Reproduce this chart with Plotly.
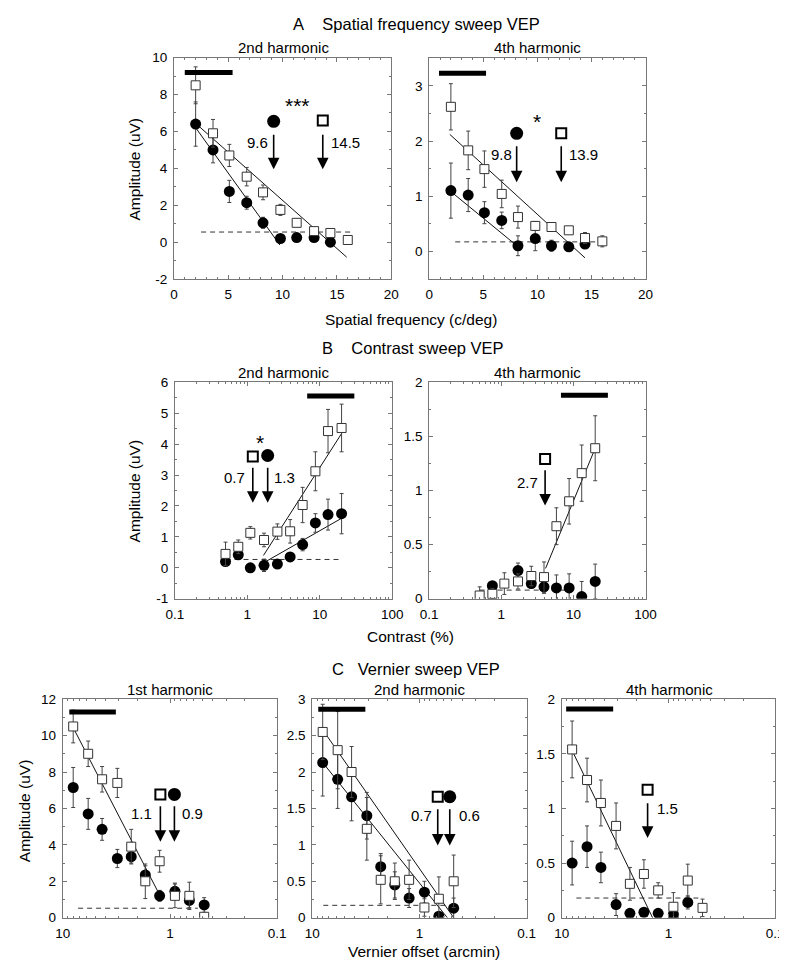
import math
import plotly.graph_objects as go

W, H = 787, 962
FONT = "Liberation Sans, Arial, sans-serif"

# ---------------- DATA ----------------
# A: spatial frequency sweep (c/deg)
A_sf = [2.0, 3.6, 5.1, 6.7, 8.2, 9.8, 11.3, 12.9, 14.4, 16.0]
A2_sq = [8.5, 5.9, 4.7, 3.55, 2.7, 1.75, 1.05, 0.6, 0.5, 0.12]
A2_sq_err = [1.0, 0.75, 0.6, 0.5, 0.4, 0.3, 0.2, 0.15, 0.15, 0.1]
A2_ci = [6.4, 5.0, 2.75, 2.14, 1.05, 0.2, 0.25, 0.25, 0.0]
A2_ci_err = [1.2, 0.7, 0.6, 0.35, 0.3, 0.2, 0.15, 0.15, 0.1]
A2_fit_ci_x, A2_fit_ci_y = [1.92, 9.75], [6.27, -0.15]
A2_fit_sq_x, A2_fit_sq_y = [1.92, 15.9], [6.48, -0.81]
A2_noise_x, A2_noise_y = [2.5, 16.3], 0.55
A2_bar_x, A2_bar_y = [1.0, 5.4], 9.2

A4_sq = [2.62, 1.83, 1.49, 1.04, 0.62, 0.46, 0.44, 0.38, 0.24, 0.18]
A4_sq_err = [0.42, 0.35, 0.33, 0.25, 0.2, 0.08, 0.05, 0.05, 0.1, 0.1]
A4_ci = [1.1, 1.02, 0.7, 0.56, 0.1, 0.23, 0.1, 0.08, 0.13]
A4_ci_err = [0.5, 0.3, 0.2, 0.15, 0.18, 0.22, 0.1, 0.05, 0.05]
A4_fit_ci_x, A4_fit_ci_y = [2.2, 8.1], [1.05, 0.1]
A4_fit_sq_x, A4_fit_sq_y = [1.9, 14.4], [2.12, -0.12]
A4_noise_x, A4_noise_y = [2.4, 16.1], 0.17
A4_bar_x, A4_bar_y = [0.9, 5.25], 3.23

# B: contrast sweep (%)
B_c = [0.5, 0.75, 1.1, 1.7, 2.6, 3.9, 5.8, 8.7, 13, 20]
B2_sq = [0.45, 0.68, 1.13, 0.9, 1.17, 1.18, 2.03, 3.12, 4.42, 4.52]
B2_sq_err = [0.38, 0.22, 0.2, 0.22, 0.25, 0.38, 0.57, 0.63, 0.7, 0.77]
B2_ci = [0.2, 0.42, 0.0, 0.08, 0.12, 0.35, 0.75, 1.45, 1.72, 1.75]
B2_ci_err = [0.05, 0.1, 0.1, 0.2, 0.1, 0.12, 0.2, 0.3, 0.5, 0.65]
B2_fit_sq_x, B2_fit_sq_y = [1.67, 20], [0.4, 4.34]
B2_fit_ci_x, B2_fit_ci_y = [1.67, 21.4], [0.16, 1.64]
B2_noise_x, B2_noise_y = [0.5, 20], 0.27
B2_bar_x, B2_bar_y = [6.7, 30], 5.55

B4_sq = [0.03, 0.045, 0.14, 0.16, 0.21, 0.2, 0.67, 0.9, 1.16, 1.39]
B4_sq_err = [0.08, 0.05, 0.1, 0.07, 0.09, 0.14, 0.17, 0.21, 0.26, 0.3]
B4_ci = [None, 0.12, None, 0.26, 0.14, 0.11, 0.1, 0.1, 0.02, 0.16]
B4_ci_err = [0, 0.03, 0, 0.07, 0.04, 0.06, 0.12, 0.13, 0.14, 0.16]
B4_fit_sq_x, B4_fit_sq_y = [4.1, 20], [0.28, 1.39]
B4_noise_x, B4_noise_y = [0.5, 9.5], 0.08
B4_bar_x, B4_bar_y = [6.7, 30], 1.88

# C: vernier sweep (arcmin)
C_v = [8.0, 5.8, 4.3, 3.1, 2.3, 1.7, 1.25, 0.9, 0.66, 0.48]
C1_sq = [10.5, 9.0, 7.6, 7.4, 3.9, 2.0, 3.1, 1.2, 1.2, 0.05]
C1_sq_err = [0.9, 0.7, 0.7, 0.8, 0.95, 0.95, 0.6, 0.65, 0.75, 0.1]
C1_ci = [7.15, 5.7, 4.85, 3.25, 3.35, 2.35, 1.2, 1.45, 0.95, 0.7]
C1_ci_err = [1.1, 0.85, 0.6, 0.5, 0.35, 0.5, 0.3, 0.45, 0.4, 0.4]
C1_fit_sq_x, C1_fit_sq_y = [7.94, 1.23], [10.4, 1.17]
C1_noise_x, C1_noise_y = [7.2, 0.55], 0.52
C1_bar_x, C1_bar_y = [8.7, 3.2], 11.3

C2_sq = [2.55, 2.3, 2.0, 1.22, 0.52, 0.5, 0.52, 0.14, 0.26, 0.5]
C2_sq_err = [0.38, 0.53, 0.35, 0.43, 0.33, 0.25, 0.27, 0.12, 0.3, 0.36]
C2_ci = [2.13, 1.9, 1.66, 1.4, 0.7, 0.45, 0.27, 0.35, 0.02, 0.13]
C2_ci_err = [0.46, 0.4, 0.33, 0.32, 0.18, 0.18, 0.13, 0.15, 0.05, 0.14]
C2_fit_sq_x, C2_fit_sq_y = [8.0, 0.48], [2.58, 0.0]
C2_fit_ci_x, C2_fit_ci_y = [8.0, 0.55], [2.13, 0.0]
C2_noise_x, C2_noise_y = [7.9, 0.5], 0.17
C2_bar_x, C2_bar_y = [8.8, 3.2], 2.86

C3_sq = [1.54, 1.26, 1.05, 0.84, 0.31, 0.4, 0.25, 0.1, 0.34, 0.09]
C3_sq_err = [0.26, 0.2, 0.21, 0.21, 0.15, 0.13, 0.07, 0.13, 0.15, 0.08]
C3_ci = [0.5, 0.65, 0.46, 0.12, 0.04, 0.05, 0.04, 0.03, 0.14, None]
C3_ci_err = [0.2, 0.19, 0.14, 0.1, 0.03, 0.03, 0.02, 0.02, 0.06, 0]
C3_fit_sq_x, C3_fit_sq_y = [8.0, 1.41], [1.53, 0.0]
C3_noise_x, C3_noise_y = [7.3, 0.48], 0.18
C3_bar_x, C3_bar_y = [9.1, 3.3], 1.91

# threshold annotations: (panel, symbol, x, y)
ann_markers = [
    (1, "circle", 9.18, 6.55), (1, "square", 13.7, 6.6),
    (2, "circle", 8.08, 2.14), (2, "square", 12.2, 2.14),
    (3, "square", 1.19, 3.6), (3, "circle", 1.91, 3.63),
    (4, "square", 4.04, 1.29),
    (5, "square", 1.23, 6.77), (5, "circle", 0.91, 6.77),
    (6, "square", 0.676, 1.66), (6, "circle", 0.522, 1.66),
    (7, "square", 1.57, 1.17),
]
# arrows: (panel, x, y_tail, y_tip)
ann_arrows = [
    (1, 9.18, 5.9, 3.95), (1, 13.7, 5.9, 3.95),
    (2, 8.08, 1.93, 1.25), (2, 12.2, 1.93, 1.25),
    (3, 1.19, 3.28, 2.1), (3, 1.91, 3.28, 2.1),
    (4, 4.04, 1.2, 0.86),
    (5, 1.23, 6.2, 4.17), (5, 0.91, 6.2, 4.17),
    (6, 0.676, 1.51, 0.99), (6, 0.522, 1.51, 0.99),
    (7, 1.57, 1.06, 0.73),
]
# texts: (panel, x, y, text, xanchor, size)
ann_texts = [
    (1, 8.85, 5.38, "9.6", "right", 15), (1, 14.25, 5.38, "14.5", "left", 15),
    (1, 11.4, 7.4, "***", "center", 21),
    (2, 7.85, 1.76, "9.8", "right", 15), (2, 12.7, 1.76, "13.9", "left", 15),
    (2, 10.0, 2.36, "*", "center", 21),
    (3, 0.98, 2.93, "0.7", "right", 15), (3, 2.2, 2.93, "1.3", "left", 15),
    (3, 1.5, 4.05, "*", "center", 21),
    (4, 3.45, 1.07, "2.7", "right", 15),
    (5, 1.4, 5.71, "1.1", "right", 15), (5, 0.8, 5.71, "0.9", "left", 15),
    (6, 0.73, 1.4, "0.7", "right", 15), (6, 0.45, 1.4, "0.6", "left", 15),
    (7, 1.33, 1.0, "1.5", "left", 15),
]

# ---------------- FIGURE ----------------
fig = go.Figure()

LOG_PANELS = {3, 4, 5, 6, 7}


def ax_names(k):
    return ("x" if k == 1 else f"x{k}"), ("y" if k == 1 else f"y{k}")


def lx(k, v):
    return math.log10(v) if k in LOG_PANELS else v


def panel(k, x, sq, sq_err, ci, ci_err, fits, noise_x, noise_y, bar_x, bar_y):
    xa, ya = ax_names(k)
    common = dict(xaxis=xa, yaxis=ya, showlegend=False, hoverinfo="skip")
    fig.add_trace(go.Scatter(x=noise_x, y=[noise_y, noise_y], mode="lines",
                             line=dict(color="#333", width=1, dash="5px,4px"), **common))
    for fx, fy in fits:
        fig.add_trace(go.Scatter(x=fx, y=fy, mode="lines",
                                 line=dict(color="#111", width=1), **common))
    fig.add_trace(go.Scatter(x=x[:len(ci)], y=ci, mode="markers",
                             marker=dict(symbol="circle", size=11, color="black"),
                             error_y=dict(type="data", array=ci_err, color="#444",
                                          thickness=1, width=2), **common))
    fig.add_trace(go.Scatter(x=x[:len(sq)], y=sq, mode="markers",
                             marker=dict(symbol="square", size=9, color="white",
                                         line=dict(color="#333", width=1)),
                             error_y=dict(type="data", array=sq_err, color="#444",
                                          thickness=1, width=2), **common))
    fig.add_trace(go.Scatter(x=bar_x, y=[bar_y, bar_y], mode="lines",
                             line=dict(color="black", width=5), **common))


panel(1, A_sf, A2_sq, A2_sq_err, A2_ci, A2_ci_err,
      [(A2_fit_ci_x, A2_fit_ci_y), (A2_fit_sq_x, A2_fit_sq_y)],
      A2_noise_x, A2_noise_y, A2_bar_x, A2_bar_y)
panel(2, A_sf, A4_sq, A4_sq_err, A4_ci, A4_ci_err,
      [(A4_fit_ci_x, A4_fit_ci_y), (A4_fit_sq_x, A4_fit_sq_y)],
      A4_noise_x, A4_noise_y, A4_bar_x, A4_bar_y)
panel(3, B_c, B2_sq, B2_sq_err, B2_ci, B2_ci_err,
      [(B2_fit_sq_x, B2_fit_sq_y), (B2_fit_ci_x, B2_fit_ci_y)],
      B2_noise_x, B2_noise_y, B2_bar_x, B2_bar_y)
panel(4, B_c, B4_sq, B4_sq_err, B4_ci, B4_ci_err,
      [(B4_fit_sq_x, B4_fit_sq_y)],
      B4_noise_x, B4_noise_y, B4_bar_x, B4_bar_y)
panel(5, C_v, C1_sq, C1_sq_err, C1_ci, C1_ci_err,
      [(C1_fit_sq_x, C1_fit_sq_y)],
      C1_noise_x, C1_noise_y, C1_bar_x, C1_bar_y)
panel(6, C_v, C2_sq, C2_sq_err, C2_ci, C2_ci_err,
      [(C2_fit_sq_x, C2_fit_sq_y), (C2_fit_ci_x, C2_fit_ci_y)],
      C2_noise_x, C2_noise_y, C2_bar_x, C2_bar_y)
panel(7, C_v, C3_sq, C3_sq_err, C3_ci, C3_ci_err,
      [(C3_fit_sq_x, C3_fit_sq_y)],
      C3_noise_x, C3_noise_y, C3_bar_x, C3_bar_y)

for k, sym, x, y in ann_markers:
    xa, ya = ax_names(k)
    if sym == "circle":
        mk = dict(symbol="circle", size=13, color="black")
    else:
        mk = dict(symbol="square", size=10, color="white", line=dict(color="black", width=2))
    fig.add_trace(go.Scatter(x=[x], y=[y], mode="markers", marker=mk, xaxis=xa, yaxis=ya,
                             showlegend=False, hoverinfo="skip"))

annotations = []
for k, x, yt, yh in ann_arrows:
    xa, ya = ax_names(k)
    annotations.append(dict(x=lx(k, x), y=yh, ax=lx(k, x), ay=yt, xref=xa, yref=ya,
                            axref=xa, ayref=ya, text="", showarrow=True,
                            arrowhead=2, arrowsize=1.45, arrowwidth=1.6,
                            arrowcolor="black"))
for k, x, y, t, anc, sz in ann_texts:
    xa, ya = ax_names(k)
    annotations.append(dict(x=lx(k, x), y=y, xref=xa, yref=ya, text=t, showarrow=False,
                            xanchor=anc, yanchor="middle",
                            font=dict(size=sz, color="black", family=FONT)))


def paper_text(px, py, text, size, angle=0):
    annotations.append(dict(x=px / W, y=1 - py / H, xref="paper", yref="paper", text=text,
                            showarrow=False, xanchor="center", yanchor="middle",
                            textangle=angle, font=dict(size=size, color="black", family=FONT)))


paper_text(410, 9, "A&nbsp;&nbsp;&nbsp;&nbsp;Spatial frequency sweep VEP", 16.5)
paper_text(406, 338, "B&nbsp;&nbsp;&nbsp;&nbsp;Contrast sweep VEP", 16.5)
paper_text(409, 664, "C&nbsp;&nbsp;&nbsp;Vernier sweep VEP", 16.5)
paper_text(273, 33, "2nd harmonic", 15)
paper_text(534, 33, "4th harmonic", 15)
paper_text(273, 363, "2nd harmonic", 15)
paper_text(534, 363, "4th harmonic", 15)
paper_text(157, 685, "1st harmonic", 15)
paper_text(413, 685, "2nd harmonic", 15)
paper_text(670, 685, "4th harmonic", 15)
paper_text(404, 309, "Spatial frequency (c/deg)", 15.5)
paper_text(404, 631, "Contrast (%)", 15.5)
paper_text(418, 951, "Vernier offset (arcmin)", 15.5)
paper_text(121, 156, "Amplitude (uV)", 15.5, -90)
paper_text(121, 483, "Amplitude (uV)", 15.5, -90)
paper_text(8, 808, "Amplitude (uV)", 15.5, -90)

# ---------------- AXES ----------------
AXC = "#777"


def xdom(a, b):
    return [a / W, b / W]


def ydom(top, bottom):
    return [1 - bottom / H, 1 - top / H]


def base_axis():
    return dict(showline=True, linecolor=AXC, linewidth=1, mirror="ticks", ticks="inside",
                ticklen=4, tickcolor=AXC, tickwidth=1, showgrid=False, zeroline=False,
                tickfont=dict(size=13.5, color="black", family=FONT), ticklabelstandoff=3,
                ticklabeloverflow="allow")


def lin_x(dom, anchor):
    d = base_axis()
    d.update(domain=dom, anchor=anchor, range=[0, 20], tickmode="array",
             tickvals=[0, 5, 10, 15, 20], ticktext=["0", "5", "10", "15", "20"],
             minor=dict(ticks="inside", ticklen=2, tickcolor=AXC, dtick=1, tick0=0))
    return d


def log_x(dom, anchor, rng, vals, texts):
    d = base_axis()
    minors = [m * 10 ** e for e in range(-2, 3) for m in range(2, 10)]
    d.update(domain=dom, anchor=anchor, type="log", range=rng, tickmode="array",
             tickvals=vals, ticktext=texts,
             minor=dict(ticks="inside", ticklen=2, tickcolor=AXC, tickmode="array",
                        tickvals=minors))
    return d


def y_ax(dom, anchor, rng, vals, texts, mdt):
    d = base_axis()
    d.update(domain=dom, anchor=anchor, range=rng, tickmode="array", tickvals=vals,
             ticktext=texts, minor=dict(ticks="inside", ticklen=2, tickcolor=AXC,
                                        dtick=mdt, tick0=0))
    return d


layout = dict(
    width=W, height=H, margin=dict(l=0, r=0, t=0, b=0),
    paper_bgcolor="white", plot_bgcolor="white",
    font=dict(family=FONT, color="black"),
    annotations=annotations,
)

# A
layout["xaxis"] = lin_x(xdom(161, 384), "y")
layout["yaxis"] = y_ax(ydom(43.3, 268.3), "x", [-2, 10], [-2, 0, 2, 4, 6, 8, 10],
                       ["-2", "0", "2", "4", "6", "8", "10"], 1)
layout["xaxis2"] = lin_x(xdom(423, 645), "y2")
layout["yaxis2"] = y_ax(ydom(44, 268), "x2", [-0.5, 3.5], [0, 1, 2, 3],
                        ["0", "1", "2", "3"], 0.5)
# B
bvals = [0.1, 1, 10, 100]
btext = ["0.1", "1", "10", "100"]
layout["xaxis3"] = log_x(xdom(162, 385), "y3", [-1, 2], bvals, btext)
layout["yaxis3"] = y_ax(ydom(373, 593), "x3", [-1, 6], [-1, 0, 1, 2, 3, 4, 5, 6],
                        ["-1", "0", "1", "2", "3", "4", "5", "6"], 0.5)
layout["xaxis4"] = log_x(xdom(423, 645), "y4", [-1, 2], bvals, btext)
layout["yaxis4"] = y_ax(ydom(373, 593), "x4", [0, 2], [0, 0.5, 1, 1.5, 2],
                        ["0", "0.5", "1", "1.5", "2"], 0.25)
# C
cvals = [10, 1, 0.1]
ctext = ["10", "1", "0.1"]
layout["xaxis5"] = log_x(xdom(47, 267), "y5", [1, -1], cvals, ctext)
layout["yaxis5"] = y_ax(ydom(695, 917), "x5", [0, 12], [0, 2, 4, 6, 8, 10, 12],
                        ["0", "2", "4", "6", "8", "10", "12"], 1)
layout["xaxis6"] = log_x(xdom(303, 523), "y6", [1, -1], cvals, ctext)
layout["yaxis6"] = y_ax(ydom(695, 917), "x6", [0, 3], [0, 0.5, 1, 1.5, 2, 2.5, 3],
                        ["0", "0.5", "1", "1.5", "2", "2.5", "3"], 0.25)
layout["xaxis7"] = log_x(xdom(559, 778), "y7", [1, -1], cvals, ctext)
layout["yaxis7"] = y_ax(ydom(695, 917), "x7", [0, 2], [0, 0.5, 1, 1.5, 2],
                        ["0", "0.5", "1", "1.5", "2"], 0.25)

fig.update_layout(**layout)
fig.write_html("out.html")
